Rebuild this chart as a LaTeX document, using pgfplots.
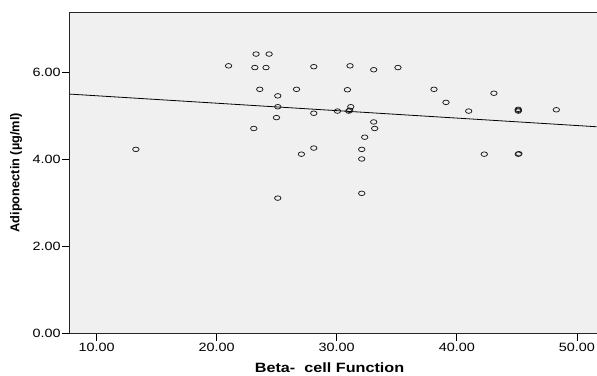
\documentclass[border=0pt]{standalone}
\usepackage{fontspec}
\setmainfont{Liberation Sans}
\newfontfamily\wide[FakeStretch=1.2]{Liberation Sans}
\usepackage{pgfplots}
\pgfplotsset{compat=1.18}
\definecolor{bgc}{HTML}{F0F0F0}
\begin{document}
\begin{tikzpicture}[x=1pt,y=1pt]
\begin{axis}[
  at={(0,0)}, anchor=south west,
  scale only axis,
  width=527pt, height=321pt,
  xmin=7.78, xmax=51.64,
  ymin=0, ymax=7.37,
  axis background/.style={fill=bgc},
  axis lines*=left,
  axis line style={line width=0.9pt, black!85},
  xtick={10,20,30,40,50},
  ytick={0,2,4,6},
  tick align=outside,
  major tick length=8pt,
  tick style={black, line width=0.6pt},
  /pgf/number format/.cd, fixed, fixed zerofill, precision=2, assume math mode=true,
  /pgfplots/.cd,
  tick label style={font=\wide\fontsize{12}{14}\selectfont},
  xticklabel style={inner sep=1.5pt},
  yticklabel style={inner sep=1pt},
  xlabel={Beta-\ \ cell Function},
  ylabel={Adiponectin (µg/ml)},
  xlabel style={font=\wide\bfseries\fontsize{13.5}{15}\selectfont, at={(axis description cs:0.493,0)}, anchor=center, yshift=-34.5pt},
  ylabel style={font=\bfseries\fontsize{12.8}{14}\selectfont, at={(axis description cs:-0.1025,0.5)}, anchor=center},
  clip=false,
]
\addplot[only marks, mark=o, mark size=2.3pt, mark options={xscale=1.4, line width=0.75pt, black!90}] coordinates {
(13.27,4.22) (20.99,6.14) (23.28,6.41) (24.37,6.41) (23.18,6.10) (24.11,6.10)
(23.59,5.60) (25.09,5.45) (25.09,5.20) (24.98,4.95) (23.09,4.70) (25.09,3.10)
(26.65,5.60) (28.09,6.12) (31.11,6.14) (33.08,6.05) (35.10,6.10) (30.89,5.59)
(28.09,5.05) (30.06,5.10) (31.00,5.10) (31.17,5.20) (31.08,5.12)
(33.08,4.85) (33.16,4.70) (32.33,4.50) (28.09,4.25) (27.06,4.11)
(32.08,4.22) (32.08,4.00) (32.08,3.21)
(38.10,5.60) (39.10,5.30) (43.09,5.51) (40.99,5.10)
(45.12,5.12) (45.12,5.14) (45.12,5.10) (48.29,5.13)
(42.29,4.11) (45.12,4.11) (45.17,4.12)
};
\addplot[black, line width=0.8pt] coordinates {(7.78,5.49) (51.64,4.74)};
\draw[line width=0.9pt, black!85] (rel axis cs:0,1) -- (rel axis cs:1,1);
\end{axis}
\path[use as bounding box] (-70,-39.7) rectangle (527,333.3);
\end{tikzpicture}
\end{document}
